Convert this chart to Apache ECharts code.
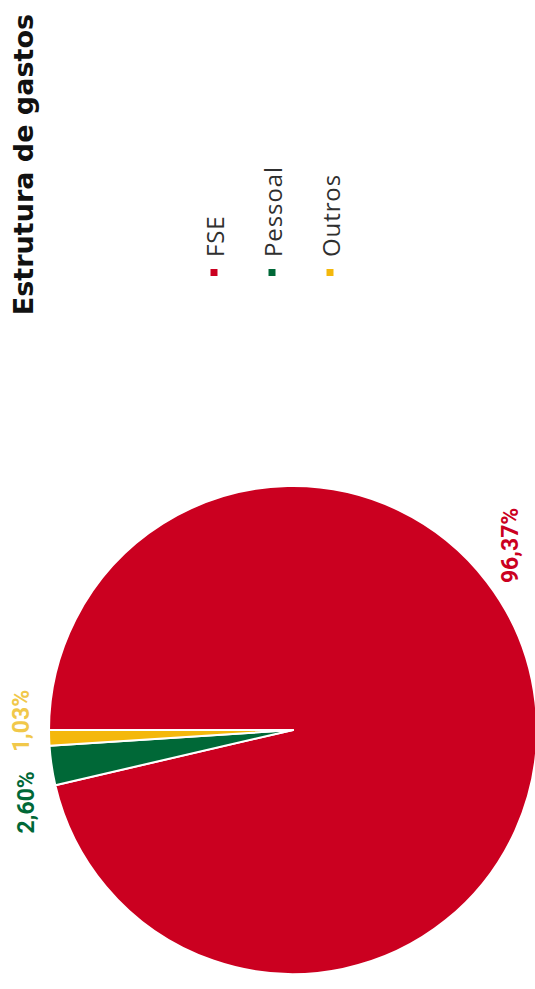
<!DOCTYPE html>
<html>
<head>
<meta charset="utf-8">
<script src="https://cdn.jsdelivr.net/npm/echarts@6/dist/echarts.min.js"></script>
<style>
  html, body { margin: 0; padding: 0; background: #ffffff; overflow: hidden; }
  body { width: 535px; height: 989px; position: relative; }
  /* The chart is laid out landscape and turned a quarter turn so it reads bottom-to-top */
  #chart {
    position: absolute; left: 0; top: 0;
    width: 989px; height: 535px;
    transform-origin: 0 0;
    transform: translate(0, 989px) rotate(-90deg);
  }
  /* slightly open tracking for the legend entries */
  #chart text[style*="Open Sans"] { letter-spacing: 0.9px; }
</style>
</head>
<body>
<div id="chart"></div>
<script>
// Expense structure (% of total)
const categories = ['FSE', 'Pessoal', 'Outros'];
const shares = [96.37, 2.60, 1.03];
const sliceColors = ['#CB0020', '#006837', '#F4B80C'];
const labelColors = ['#CB0020', '#006837', '#F1C84A'];

// Pie geometry and where each percentage label sits (angle in degrees, distance as a multiple of the radius)
const pieCenter = [259, 293];
const pieRadius = 244;
const labelAngles = [49.7, -105.2, -88.1];
const labelDistances = [1.17, 1.13, 1.115];

const fmt = v => v.toFixed(2).replace('.', ',') + '%';

const chart = echarts.init(document.getElementById('chart'), null, { renderer: 'svg' });

chart.setOption({
  backgroundColor: '#ffffff',
  animation: false,
  title: {
    text: 'Estrutura de gastos',
    right: 9,
    top: 5,
    textStyle: {
      fontFamily: 'DejaVu Sans',
      fontWeight: 'bold',
      fontSize: 27,
      color: '#111111'
    }
  },
  legend: {
    orient: 'vertical',
    left: 706,
    top: 197,
    icon: 'rect',
    itemWidth: 9,
    itemHeight: 9,
    itemGap: 34,
    data: categories,
    textStyle: {
      fontFamily: 'Open Sans',
      fontSize: 24,
      lineHeight: 24,
      color: '#2f2f2f',
      padding: [0, 0, 0, 6]
    }
  },
  series: [{
    type: 'pie',
    center: pieCenter,
    radius: pieRadius,
    startAngle: 90,
    clockwise: true,
    avoidLabelOverlap: false,
    itemStyle: { borderColor: '#ffffff', borderWidth: 2 },
    label: {
      show: true,
      position: 'outside',
      fontFamily: 'Roboto',
      fontWeight: 'bold',
      fontSize: 23,
      formatter: p => fmt(p.value)
    },
    labelLine: { show: false },
    labelLayout: params => {
      const i = params.dataIndex;
      const a = labelAngles[i] * Math.PI / 180;
      const d = pieRadius * labelDistances[i];
      return {
        x: pieCenter[0] + d * Math.cos(a),
        y: pieCenter[1] + d * Math.sin(a),
        align: 'center',
        verticalAlign: 'middle'
      };
    },
    emphasis: { disabled: true },
    data: categories.map((name, i) => ({
      name: name,
      value: shares[i],
      itemStyle: { color: sliceColors[i] },
      label: { color: labelColors[i] }
    }))
  }]
});
</script>
</body>
</html>
